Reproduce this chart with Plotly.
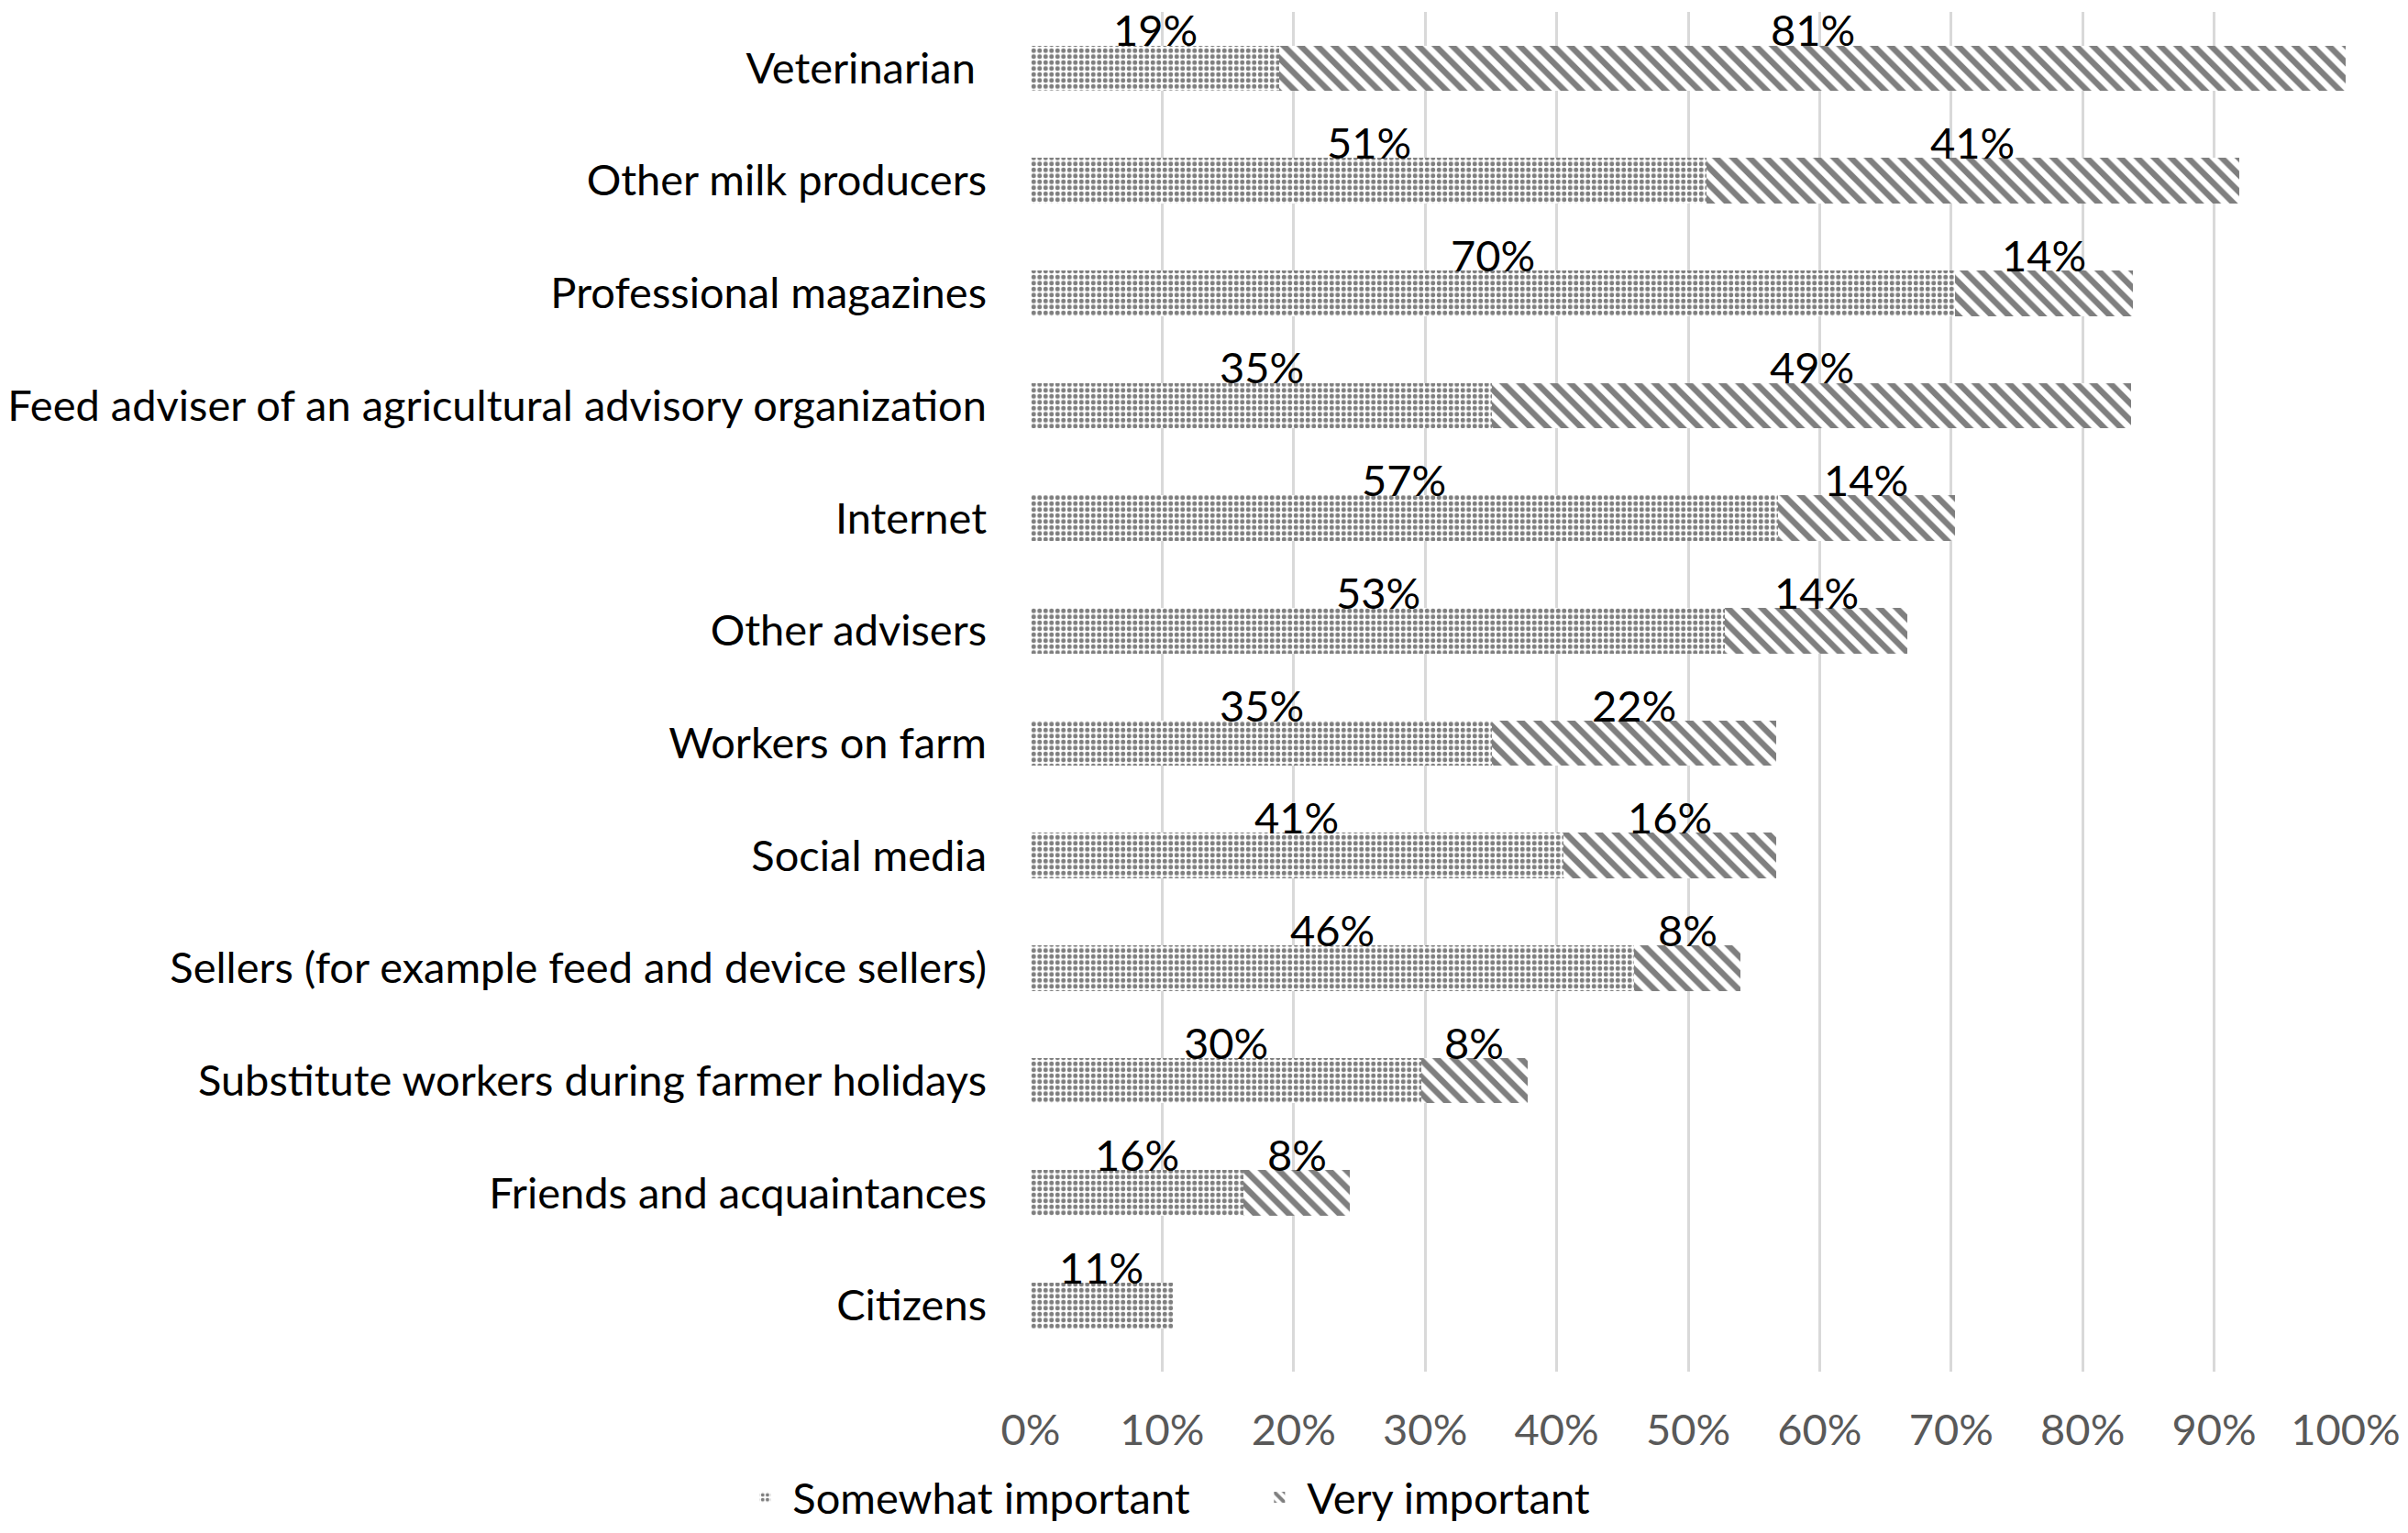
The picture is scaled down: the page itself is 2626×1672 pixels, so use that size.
import plotly.graph_objects as go

categories = [
    "Veterinarian ",
    "Other milk producers",
    "Professional magazines",
    "Feed adviser of an agricultural advisory organization",
    "Internet",
    "Other advisers",
    "Workers on farm",
    "Social media",
    "Sellers (for example feed and device sellers)",
    "Substitute workers during farmer holidays",
    "Friends and acquaintances",
    "Citizens",
]
somewhat = [18.9, 51.4, 70.3, 35.1, 56.8, 52.8, 35.1, 40.5, 45.9, 29.7, 16.2, 10.8]
very = [81.1, 40.5, 13.5, 48.6, 13.5, 13.9, 21.6, 16.2, 8.1, 8.1, 8.1, 0.0]
x_ticks = [0, 10, 20, 30, 40, 50, 60, 70, 80, 90, 100]
x_tick_labels = [f"{t}%" for t in x_ticks]

FONT = "Lato"
FS = 47


def pct(v):
    return f"{int(v + 0.5)}%"


fig = go.Figure()
fig.add_trace(go.Bar(
    y=categories, x=somewhat, orientation="h", name="Somewhat important",
    marker=dict(color="white", line=dict(width=0),
                pattern=dict(shape=".", fgcolor="black", bgcolor="white", size=6.5, solidity=0.45)),
))
fig.add_trace(go.Bar(
    y=categories, x=very, orientation="h", name="Very important",
    marker=dict(color="white", line=dict(width=0),
                pattern=dict(shape="\\", fgcolor="black", bgcolor="white", size=13, solidity=0.5)),
))

annotations = []
for cat, s, v in zip(categories, somewhat, very):
    if s > 0:
        annotations.append(dict(x=s / 2, y=cat, text=pct(s), showarrow=False,
                                yshift=42, font=dict(family=FONT, size=FS, color="black")))
    if v > 0:
        annotations.append(dict(x=s + v / 2, y=cat, text=pct(v), showarrow=False,
                                yshift=42, font=dict(family=FONT, size=FS, color="black")))

fig.update_layout(
    barmode="stack",
    bargap=0.595,
    width=2626, height=1672,
    margin=dict(l=1124, r=68, t=13, b=176),
    paper_bgcolor="white", plot_bgcolor="white",
    font=dict(family=FONT, size=FS, color="black"),
    annotations=annotations,
    legend=dict(orientation="h", xref="container", yref="container", x=0.3063, y=0.023,
                xanchor="left", yanchor="middle", font=dict(family=FONT, size=FS, color="black"),
                itemwidth=50, traceorder="normal", entrywidth=496, entrywidthmode="pixels"),
)
fig.update_xaxes(range=[0, 100], tickvals=x_ticks, ticktext=x_tick_labels, automargin=False,
                 showgrid=True, gridcolor="#d9d9d9", gridwidth=2.5, zeroline=False,
                 showline=False, ticks="", ticklabelstandoff=32,
                 tickfont=dict(family=FONT, size=FS, color="#595959"))
fig.update_yaxes(autorange="reversed", showgrid=False, showline=False, ticks="", automargin=False,
                 ticklabelstandoff=47, tickfont=dict(family=FONT, size=FS, color="black"))

fig.write_html("out.html", config={"displayModeBar": False},
               post_script="document.body.style.margin='0';")
